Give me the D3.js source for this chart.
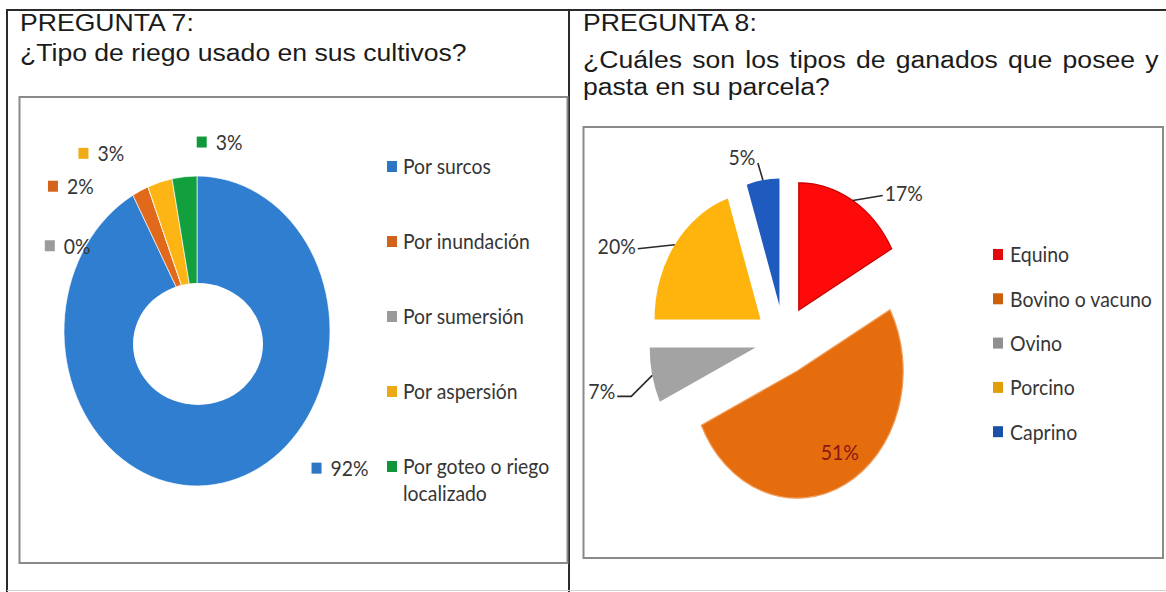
<!DOCTYPE html>
<html lang="es"><head><meta charset="utf-8">
<script src="https://cdn.jsdelivr.net/npm/d3@7/dist/d3.min.js"></script>
<style>html,body{margin:0;padding:0;background:#fff;overflow:hidden}svg{display:block}</style>
</head><body>
<svg id="chart" width="1166" height="592"></svg>
<script>
// ---------------- DATA ----------------
const titleLeft = ["PREGUNTA 7:", "¿Tipo de riego usado en sus cultivos?"];
const titleRight = ["PREGUNTA 8:", "¿Cuáles son los tipos de ganados que posee y", "pasta en su parcela?"];

const riegoCategories = ["Por surcos", "Por inundación", "Por sumersión", "Por aspersión", "Por goteo o riego localizado"];
const riegoValues = [92, 2, 0, 3, 3];

const ganadoCategories = ["Equino", "Bovino o vacuno", "Ovino", "Porcino", "Caprino"];
const ganadoValues = [17, 51, 7, 20, 5];

// ---------------- STYLE / LAYOUT ----------------
const riegoColors = ["#2f7ed0", "#e0691c", "#a5a5a5", "#fdb515", "#12a03e"];
const ganadoColors = ["#ff0a0a", "#e66d0e", "#a3a3a3", "#ffb30d", "#1f5bbf"];
const FONT_T = "'Liberation Sans', Arial, sans-serif";
const FONT = "Lato, 'Open Sans', sans-serif";
const TXT = "#363636";
const SY_TXT = 1.1;   // the scanned original is slightly stretched vertically

const svg = d3.select("#chart");
svg.append("rect").attr("width", 1166).attr("height", 592).attr("fill", "#fff");

// frames
const frame = svg.append("g").attr("fill", "none");
frame.append("line").attr("x1", 6).attr("y1", 10).attr("x2", 1166).attr("y2", 10).attr("stroke", "#2b2b2b").attr("stroke-width", 2);
frame.append("line").attr("x1", 7).attr("y1", 9).attr("x2", 7).attr("y2", 592).attr("stroke", "#2b2b2b").attr("stroke-width", 2);
frame.append("line").attr("x1", 569).attr("y1", 9).attr("x2", 569).attr("y2", 592).attr("stroke", "#2b2b2b").attr("stroke-width", 2);
frame.append("line").attr("x1", 7).attr("y1", 590.5).attr("x2", 1166).attr("y2", 590.5).attr("stroke", "#d0d0d0").attr("stroke-width", 1);
frame.append("rect").attr("x", 19.5).attr("y", 97).attr("width", 548).attr("height", 466).attr("stroke", "#8a8a8a").attr("stroke-width", 2);
frame.append("rect").attr("x", 583.5).attr("y", 127).attr("width", 579.5).attr("height", 431).attr("stroke", "#8a8a8a").attr("stroke-width", 2);

// ---------- helpers ----------
function measure(str, size, family) {
  const t = svg.append("text").attr("font-family", family).attr("font-size", size).text(str);
  const w = t.node().getComputedTextLength();
  t.remove();
  return w;
}
function label(parent, x, y, str, o) {
  const g = parent.append("g").attr("transform", `translate(${x},${y}) scale(${o.k || 1},${o.sy || SY_TXT})`);
  return g.append("text")
    .attr("font-family", o.family || FONT)
    .attr("font-size", o.size)
    .attr("fill", o.fill || TXT)
    .attr("text-anchor", o.anchor || "start")
    .attr("dy", o.dy || "0.35em")
    .text(str);
}

// ---------- titles (narrow & tall like the scan) ----------
const TS = 22, TSY = 1.1;
const kT = 447 / measure(titleLeft[1], TS, FONT_T);
function titleBlock(x, lines, baselines, justify) {
  lines.forEach((ln, i) => {
    const g = svg.append("g").attr("transform", `translate(${x},${baselines[i]}) scale(${kT},${TSY})`);
    const t = g.append("text").attr("font-family", FONT_T).attr("font-size", TS).attr("fill", "#1b1b1b").text(ln);
    if (justify && justify[i]) {
      const w = measure(ln, TS, FONT_T);
      const n = (ln.match(/ /g) || []).length;
      t.attr("word-spacing", (justify[i] / kT - w) / n);
    }
  });
}
titleBlock(20, titleLeft, [31, 61]);
titleBlock(583, titleRight, [31, 68, 95], [0, 576, 0]);

// =============== LEFT: DONUT ===============
const LS = 19;
const kL = 88 / measure("Por surcos", LS, FONT);
const pie = d3.pie().sort(null).value(d => d);
const riegoArcs = pie(riegoValues);
const dC = {x: 197, y: 331}, dR = 133, dSy = 1.165;
const hole = {x: 198, y: 344, rx: 65, ry: 61};

const dG = svg.append("g").attr("transform", `translate(${dC.x},${dC.y}) scale(1,${dSy})`);
dG.selectAll("path").data(riegoArcs).join("path")
  .attr("d", d3.arc().innerRadius(0).outerRadius(dR))
  .attr("fill", (d, i) => riegoColors[i])
  .attr("stroke", "#ffffff").attr("stroke-width", 0.6);
svg.append("ellipse").attr("cx", hole.x).attr("cy", hole.y).attr("rx", hole.rx).attr("ry", hole.ry).attr("fill", "#fff");

// data labels with legend key (Excel best-fit style), anchored on the slice mid-angle
const donutLabelNudge = [[105, -35], [-61, 17], [-73, 81], [-53, -6], [37, -11]];
riegoArcs.forEach((a, i) => {
  const m = (a.startAngle + a.endAngle) / 2;
  const ax = dC.x + (dR + 20) * Math.sin(m);
  const ay = dC.y - (dR + 20) * Math.cos(m) * dSy;
  const cx = ax + donutLabelNudge[i][0], cy = ay + donutLabelNudge[i][1];
  const str = d3.format(".0%")(a.data / d3.sum(riegoValues));
  const tw = measure(str, LS, FONT) * kL;
  const total = 10 + 9 + tw;
  const x0 = cx - total / 2;
  svg.append("rect").attr("x", x0).attr("y", cy - 6).attr("width", 10).attr("height", 11)
    .attr("fill", d3.color(riegoColors[i]).darker(0.15));
  label(svg, x0 + 19, cy, str, {size: LS, k: kL});
});

// legend (wrapped like the original)
function wrapWords(str, maxW, size, k) {
  const words = str.split(" ");
  const lines = [];
  let cur = "";
  words.forEach(w => {
    const test = cur ? cur + " " + w : w;
    if (measure(test, size, FONT) * k > maxW && cur) { lines.push(cur); cur = w; }
    else cur = test;
  });
  lines.push(cur);
  return lines;
}
riegoCategories.forEach((c, i) => {
  const y = 167 + i * 75;
  svg.append("rect").attr("x", 387).attr("y", y - 6).attr("width", 10).attr("height", 11)
    .attr("fill", d3.color(riegoColors[i]).darker(0.2));
  const lines = wrapWords(c, 155, LS, kL);
  lines.forEach((ln, j) => label(svg, 403, y + j * 27, ln, {size: LS, k: kL}));
});

// =============== RIGHT: EXPLODED PIE ===============
const kR = 142 / measure("Bovino o vacuno", LS, FONT);
const gArcs = pie(ganadoValues);
const pC = {x: 784, y: 340}, pR = 106, pSy = 1.2, explode = 29;
const arcR = d3.arc().innerRadius(0).outerRadius(pR);
const pG = svg.append("g").attr("transform", `translate(${pC.x},${pC.y}) scale(1,${pSy})`);
gArcs.forEach((a, i) => {
  const m = (a.startAngle + a.endAngle) / 2;
  pG.append("path")
    .attr("transform", `translate(${explode * Math.sin(m)},${-explode * Math.cos(m)})`)
    .attr("d", arcR(a))
    .attr("fill", ganadoColors[i])
    .attr("stroke", i === 0 ? "#c80000" : (i === 1 ? "#f0a060" : "none"))
    .attr("stroke-width", 1.2)
    .attr("vector-effect", "non-scaling-stroke");
});

// labels with leader lines
const pieLabelLayout = [
  {t: [32, -7], anchor: "start", lead: [[30, -5]]},
  null,
  {t: [-37, 16], anchor: "end", lead: [[-21, 21], [-35, 21]]},
  {t: [-39, 2], anchor: "end", lead: [[-37, 4]]},
  {t: [-21, -22], anchor: "middle", lead: [[-5, -17]]}
];
gArcs.forEach((a, i) => {
  const m = (a.startAngle + a.endAngle) / 2;
  const ex = pC.x + explode * Math.sin(m), ey = pC.y - explode * Math.cos(m) * pSy;
  const str = d3.format(".0%")(a.data / d3.sum(ganadoValues));
  const L = pieLabelLayout[i];
  if (!L) {
    const r = pR * 0.72;
    label(svg, ex + r * Math.sin(m) + 8, ey - r * Math.cos(m) * pSy, str, {size: LS, k: kR, anchor: "middle", fill: "#8a1616"});
    return;
  }
  const ax = ex + pR * Math.sin(m), ay = ey - pR * Math.cos(m) * pSy;
  const pts = [[ax, ay]].concat(L.lead.map(p => [ax + p[0], ay + p[1]]));
  svg.append("path").attr("d", d3.line()(pts)).attr("fill", "none").attr("stroke", "#2a2a2a").attr("stroke-width", 1.6);
  label(svg, ax + L.t[0], ay + L.t[1], str, {size: LS, k: kR, anchor: L.anchor});
});

// legend
ganadoCategories.forEach((c, i) => {
  const y = 255 + i * 44.3;
  svg.append("rect").attr("x", 993).attr("y", y - 6).attr("width", 10).attr("height", 11)
    .attr("fill", d3.color(ganadoColors[i]).darker(0.35));
  label(svg, 1010, y, c, {size: LS, k: kR});
});
</script>
</body></html>
